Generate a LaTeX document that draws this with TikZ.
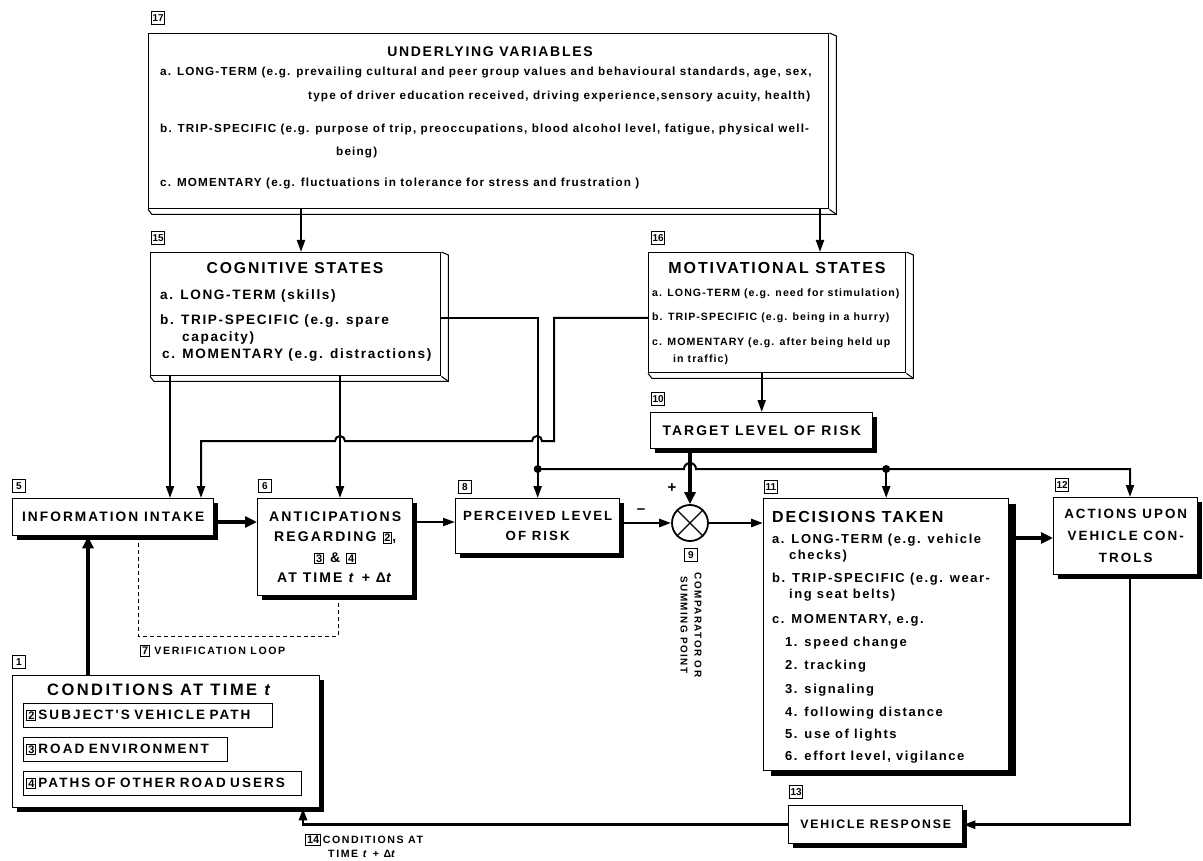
\documentclass[tikz,border=0pt]{standalone}
\usepackage{fontspec}
\setmainfont{Liberation Sans}
\newfontfamily\lsa[LetterSpace=10]{Liberation Sans}
\newfontfamily\lsb[LetterSpace=12]{Liberation Sans}
\newfontfamily\lsc[LetterSpace=15]{Liberation Sans}
\usetikzlibrary{shadows,arrows.meta}
\newcommand\fs[1]{\fontsize{#1}{#1}\selectfont}
\newcommand\fsl[2]{\fontsize{#1}{#2}\selectfont}
\newcommand\nbox[1]{{\setlength\fboxsep{1pt}\setlength\fboxrule{0.8pt}\fbox{\normalfont\fs{11}\bfseries #1}}}
\newcommand\bevel[1]{%
  \draw[line width=1pt] (#1.south west) -- ([shift={(4,5)}]#1.south west) -- ([shift={(7,5)}]#1.south east) -- ([shift={(7,3)}]#1.north east) -- (#1.north east);
  \draw[line width=1pt] (#1.south east) -- ([shift={(7,5)}]#1.south east);}
\tikzset{
 box/.style={draw, line width=1.4pt, fill=white, inner sep=2pt},
 sbox/.style={box, drop shadow={shadow xshift=4pt, shadow yshift=-4pt, opacity=1, fill=black}},
 dbox/.style={box, drop shadow={shadow xshift=7pt, shadow yshift=-5pt, opacity=1, fill=black}},
 numlab/.style={draw, line width=1pt, inner sep=1pt, minimum width=13pt, minimum height=13pt, font=\bfseries\fs{10}},
 ln/.style={line width=2pt},
 arr/.style={ln, -{Triangle[length=12pt,width=8pt]}},
 tarr/.style={line width=4pt, -{Triangle[length=12pt,width=11pt]}},
 tb/.style={inner sep=0pt, anchor=west, font=\lsa\bfseries\fs{11.7}},
 cb/.style={inner sep=0pt, anchor=west, font=\lsb\bfseries\fs{13.6}},
 mb/.style={inner sep=0pt, anchor=west, font=\lsa\bfseries\fs{10.6}},
 db/.style={inner sep=0pt, anchor=west, font=\lsb\bfseries\fs{13}},
 ttl/.style={inner sep=0pt, font=\lsb\bfseries\fs{#1}},
 bt/.style={font=\lsc\bfseries\fs{#1}, align=center},
 btl/.style 2 args={font=\lsc\bfseries\fsl{#1}{#2}, align=center},
 sub/.style={draw, line width=1pt, anchor=north west, inner xsep=3pt, minimum height=24pt, align=left, font=\lsc\bfseries\fs{13.5}},
 sm/.style={inner sep=0pt, anchor=west, font=\lsc\bfseries\fs{10.6}},
 ver/.style={line width=0.8pt, dash pattern=on 4pt off 3pt},
}
\begin{document}
\begin{tikzpicture}[x=1pt,y=-1pt]
\useasboundingbox (0,0) rectangle (1203,861);
% ---------- 17 underlying variables
\node[numlab, anchor=south west] (n17) at (151,25) {17};
\node[box, anchor=north west, minimum width=680pt, minimum height=175pt] (u) at (148,33) {};
\bevel{u}
\node[ttl=14] (ut) at (490,52) {UNDERLYING VARIABLES};
\node[tb] (ua) at (160,73) {a. LONG-TERM (e.g. prevailing cultural and peer group values and behavioural standards, age, sex,};
\node[tb] (ua2) at (308,97) {type of driver education received, driving experience,sensory acuity, health)};
\node[tb] (ub) at (160,130) {b. TRIP-SPECIFIC (e.g. purpose of trip, preoccupations, blood alcohol level, fatigue, physical well-};
\node[tb] (ub2) at (336,153) {being)};
\node[tb] (uc) at (160,184) {c. MOMENTARY (e.g. fluctuations in tolerance for stress and frustration )};
% ---------- 15 cognitive
\node[numlab, anchor=south west] (n15) at (151,245) {15};
\node[box, anchor=north west, minimum width=290pt, minimum height=123pt] (cog) at (150,252) {};
\bevel{cog}
\node[ttl=15.7] (cogt) at (295,268) {COGNITIVE STATES};
\node[cb] (coga) at (160,296) {a. LONG-TERM (skills)};
\node[cb] (cogb) at (160,321) {b. TRIP-SPECIFIC (e.g. spare};
\node[cb] (cogb2) at (182,338) {capacity)};
\node[cb] (cogc) at (162,355) {c. MOMENTARY (e.g. distractions)};
% ---------- 16 motivational
\node[numlab, anchor=south west] (n16) at (651,245) {16};
\node[box, anchor=north west, minimum width=257pt, minimum height=120pt] (mot) at (648,252) {};
\bevel{mot}
\node[ttl=16] (mott) at (777,268) {MOTIVATIONAL STATES};
\node[mb] (mota) at (652,294) {a. LONG-TERM (e.g. need for stimulation)};
\node[mb] (motb) at (652,318) {b. TRIP-SPECIFIC (e.g. being in a hurry)};
\node[mb] (motc) at (652,343) {c. MOMENTARY (e.g. after being held up};
\node[mb] (motc2) at (673,360) {in traffic)};
% ---------- 10 target
\node[numlab, anchor=south west] (n10) at (651,406) {10};
\node[sbox, anchor=north west, minimum width=222pt, minimum height=36pt, bt=13.9] (tgt) at (650,412) {TARGET LEVEL OF RISK};
% ---------- 5 information intake
\node[numlab, anchor=south west] (n5) at (12,493) {5};
\node[sbox, anchor=north west, minimum width=201pt, minimum height=37pt, bt=13.7] (ii) at (12,498) {INFORMATION INTAKE};
% ---------- 6 anticipations
\node[numlab, anchor=south west] (n6) at (258,493) {6};
\node[sbox, anchor=north west, minimum width=155pt, minimum height=97pt, btl={14}{20.5}] (ant) at (257,498) {ANTICIPATIONS\\REGARDING \nbox{2},\\\nbox{3} \& \nbox{4}\\AT TIME \textit{t} + Δ\textit{t}};
% ---------- 8 perceived
\node[numlab, anchor=south west] (n8) at (458,494) {8};
\node[sbox, anchor=north west, minimum width=164pt, minimum height=55pt, btl={13.3}{20}] (per) at (455,498) {PERCEIVED LEVEL\\OF RISK};
% ---------- 9 comparator
\node[circle, draw, line width=1.8pt, minimum size=36pt, inner sep=0pt, fill=white] (cmp) at (690,523) {};
\draw[line width=1.3pt] (cmp.north west) -- (cmp.south east) (cmp.north east) -- (cmp.south west);
\node[font=\bfseries\fs{15}] (plus) at (672,488) {+};
\node[font=\bfseries\fs{15}] (minus) at (641,511) {\textendash};
\node[numlab, anchor=north west] (n9) at (684,548) {9};
\node[rotate=-90, align=center, inner sep=0pt, font=\lsc\bfseries\fsl{9.9}{14}] (cmpl) at (691,625) {COMPARATOR OR\\SUMMING POINT};
% ---------- 11 decisions
\node[numlab, anchor=south west] (n11) at (764,494) {11};
\node[dbox, anchor=north west, minimum width=245pt, minimum height=272pt] (dec) at (763,498) {};
\node[ttl=16, anchor=west] (dect) at (772,517) {DECISIONS TAKEN};
\node[db] (deca) at (772,540) {a. LONG-TERM (e.g. vehicle};
\node[db] (deca2) at (789,556) {checks)};
\node[db] (decb) at (772,579) {b. TRIP-SPECIFIC (e.g. wear-};
\node[db] (decb2) at (789,595) {ing seat belts)};
\node[db] (decc) at (772,620) {c. MOMENTARY, e.g.};
\node[db] (dec1) at (785,643) {1. speed change};
\node[db] (dec2) at (785,666) {2. tracking};
\node[db] (dec3) at (785,690) {3. signaling};
\node[db] (dec4) at (785,713) {4. following distance};
\node[db] (dec5) at (785,735) {5. use of lights};
\node[db] (dec6) at (785,757) {6. effort level, vigilance};
% ---------- 12 actions
\node[numlab, anchor=south west] (n12) at (1055,492) {12};
\node[sbox, anchor=north west, minimum width=144pt, minimum height=77pt, btl={13.4}{22}] (act) at (1053,497) {ACTIONS UPON\\VEHICLE CON-\\TROLS};
% ---------- 13 vehicle response
\node[numlab, anchor=south west] (n13) at (789,799) {13};
\node[sbox, anchor=north west, minimum width=174pt, minimum height=38pt, bt=12.3] (veh) at (788,805) {VEHICLE RESPONSE};
% ---------- 1 conditions
\node[numlab, anchor=south west] (n1) at (12,669) {1};
\node[sbox, anchor=north west, minimum width=307pt, minimum height=132pt] (cnd) at (12,675) {};
\node[inner sep=0pt, font=\lsc\bfseries\fs{16.5}] (cndt) at (160,690) {CONDITIONS AT TIME \textit{t}};
\node[sub, text width=243pt] (c2) at (23,703) {\nbox{2}\,SUBJECT'S VEHICLE PATH};
\node[sub, text width=198pt] (c3) at (23,737) {\nbox{3}\,ROAD ENVIRONMENT};
\node[sub, text width=272pt] (c4) at (23,771) {\nbox{4}\,PATHS OF OTHER ROAD USERS};
% ---------- labels 7 and 14
\node[sm] (vl) at (140,651) {\nbox{7} VERIFICATION LOOP};
\node[sm] (l14) at (305,840) {\nbox{14}\,CONDITIONS AT};
\node[sm] (l14b) at (328,854) {TIME \textit{t} + Δ\textit{t}};
% ---------- connectors
\draw[arr] (u.south -| 301,0) -- (cog.north -| 301,0);
\draw[arr] (u.south -| 820,0) -- (mot.north -| 820,0);
\draw[arr] (cog.south -| 170,0) -- (ii.north -| 170,0);
\draw[arr] (cog.south -| 340,0) -- (ant.north -| 340,0);
\draw[arr] (cog.east |- 0,318) -| (per.north);
\draw[arr] (mot.west |- 0,318) -- (554,318) -- (554,441) -- (542,441) arc[start angle=0,end angle=-180,radius=5] -- (345,441) arc[start angle=0,end angle=-180,radius=5] -- (201,441) -- (ii.north -| 201,0);
\draw[arr] (mot.south -| tgt.north) -- (tgt.north);
\draw[tarr] (tgt.south -| cmp.north) -- (cmp.north);
\draw[arr] (per.north |- 0,469) -- (684,469) arc[start angle=180,end angle=360,radius=6] -- (1130,469) -- (act.north -| 1130,0);
\draw[arr] (dec.north |- 0,469) -- (dec.north);
\fill (per.north |- 0,469) circle (4);
\fill (dec.north |- 0,469) circle (4);
\coordinate (row) at (0,522);
\draw[tarr] (ii.east |- row) -- (ant.west |- row);
\draw[arr] (ant.east |- row) -- (per.west |- row);
\draw[arr, line width=2.6pt] (per.east |- cmp.west) -- (cmp.west);
\draw[arr, line width=2.6pt] (cmp.east) -- (dec.west |- cmp.east);
\draw[tarr] (dec.east |- 0,538) -- (act.west |- 0,538);
\draw[arr, line width=2.6pt] (act.south -| 1130,0) |- (veh.east);
\draw[arr, line width=2.8pt] (veh.west) -| (cnd.south -| 303,0);
\draw[tarr] (cnd.north -| 88,0) -- (ii.south -| 88,0);
\coordinate (vlr) at (338,636);
\draw[ver] (ii.south -| 138,0) |- (vlr) -- (ant.south -| vlr);
\end{tikzpicture}
\end{document}
